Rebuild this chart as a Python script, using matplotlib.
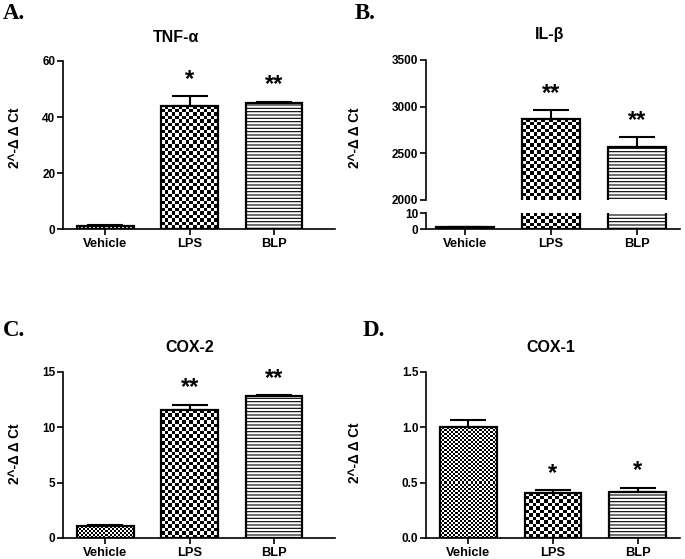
import numpy as np
import matplotlib

matplotlib.use("Agg")
import matplotlib.pyplot as plt
from matplotlib.colors import ListedColormap

plt.rcParams["font.family"] = ["Liberation Sans", "DejaVu Sans"]
plt.rcParams["font.weight"] = "bold"
plt.rcParams["hatch.linewidth"] = 0.8

groups = ["Vehicle", "LPS", "BLP"]

tnf_mean = [1.0, 44.0, 45.0]
tnf_err = [0.3, 3.5, 0.5]
tnf_stars = ["", "*", "**"]

il_mean = [1.0, 2870.0, 2565.0]
il_err = [0.3, 95.0, 105.0]
il_stars = ["", "**", "**"]

cox2_mean = [1.05, 11.55, 12.8]
cox2_err = [0.1, 0.5, 0.1]
cox2_stars = ["", "**", "**"]

cox1_mean = [1.0, 0.41, 0.415]
cox1_err = [0.07, 0.02, 0.04]
cox1_stars = ["", "*", "*"]

W, H = 685, 559
DPI = 100
fig = plt.figure(figsize=(W / DPI, H / DPI), dpi=DPI)


def rect(l, t, r, b):
    return [l / W, 1 - b / H, (r - l) / W, (b - t) / H]


def checker_fill(ax, bar, cell_px):
    x0, y0 = bar.get_x(), bar.get_y()
    w, h = bar.get_width(), bar.get_height()
    ylo, yhi = ax.get_ylim()
    ya, yb = max(y0, ylo), min(y0 + h, yhi)
    if yb <= ya:
        return
    (px0, py0), (px1, py1) = ax.transData.transform([(x0, ya), (x0 + w, yb)])
    nx = max(1, int(round((px1 - px0) / cell_px)))
    ny = max(1, int(round((py1 - py0) / cell_px)))
    grid = np.add.outer(np.arange(ny), np.arange(nx)) % 2
    im = ax.imshow(grid, cmap=ListedColormap(["white", "black"]),
                   extent=(x0, x0 + w, ya, yb), origin="lower",
                   aspect="auto", interpolation="nearest", zorder=2.5)
    im.set_clip_path(bar)


def draw_bars(ax, means, errs, stars, ylim, yticks, bottom=True, star_axes=True):
    x = np.arange(len(groups))
    ax.set_xlim(-0.5, 2.72)
    ax.set_ylim(*ylim)
    ax.errorbar(x, means, yerr=[np.zeros(len(errs)), errs], fmt="none",
                ecolor="black", elinewidth=1.5, capsize=13, capthick=1.5,
                zorder=1)
    bars = ax.bar(x, means, width=0.67, facecolor="white", edgecolor="black",
                  linewidth=0, hatch=[None, None, "-----"], zorder=2)
    ax.bar(x, means, width=0.67, facecolor="none", edgecolor="black",
           linewidth=1.6, zorder=3)
    checker_fill(ax, bars[0], 2)
    checker_fill(ax, bars[1], 3.5)
    ax.set_xlim(-0.5, 2.72)
    ax.set_ylim(*ylim)
    if star_axes:
        for xi, m, e, s in zip(x, means, errs, stars):
            if s:
                ax.annotate(s, (xi, m + e), xytext=(0, 12),
                            textcoords="offset points", ha="center",
                            va="center", fontsize=17)
    ax.set_yticks(yticks)
    ax.spines[["top", "right"]].set_visible(False)
    for sp in ax.spines.values():
        sp.set_linewidth(1.2)
    ax.tick_params(axis="y", direction="out", length=4, width=1.2,
                   labelsize=8.5, pad=1.5)
    if bottom:
        ax.set_xticks(x)
        ax.set_xticklabels(groups)
        ax.tick_params(axis="x", direction="out", length=4, width=1.2,
                       labelsize=9.3, pad=2.5)
    else:
        ax.spines["bottom"].set_visible(False)
        ax.set_xticks([])
    for lab in ax.get_xticklabels() + ax.get_yticklabels():
        lab.set_fontweight("bold")
    ax.set_facecolor("none")


# A. TNF-alpha
ax_a = fig.add_axes(rect(63, 61, 335, 229))
draw_bars(ax_a, tnf_mean, tnf_err, tnf_stars, (0, 60), [0, 20, 40, 60])

# B. IL-beta (broken axis)
ax_b_top = fig.add_axes(rect(426, 60, 680, 200))
draw_bars(ax_b_top, il_mean, il_err, il_stars, (2000, 3500),
          [2000, 2500, 3000, 3500], bottom=False)
ax_b_bot = fig.add_axes(rect(426, 213, 680, 229))
draw_bars(ax_b_bot, il_mean, il_err, il_stars, (0, 10), [0, 10],
          star_axes=False)
ax_b_top.set_xlim(-0.45, 2.5)
ax_b_bot.set_xlim(-0.45, 2.5)

# C. COX-2
ax_c = fig.add_axes(rect(63, 372, 335, 538))
draw_bars(ax_c, cox2_mean, cox2_err, cox2_stars, (0, 15), [0, 5, 10, 15])

# D. COX-1
ax_d = fig.add_axes(rect(426, 372, 680, 538))
draw_bars(ax_d, cox1_mean, cox1_err, cox1_stars, (0, 1.5),
          [0.0, 0.5, 1.0, 1.5])
ax_d.set_xlim(-0.5, 2.5)
ax_d.yaxis.set_major_formatter(matplotlib.ticker.FormatStrFormatter("%.1f"))


def ftext(px, py, s, **kw):
    fig.text(px / W, 1 - py / H, s, **kw)


# titles
for px, py, s in [(176, 37, "TNF-\u03b1"), (550, 35, "IL-\u03b2"),
                  (190, 347, "COX-2"), (551, 347, "COX-1")]:
    ftext(px, py, s, ha="center", va="center", fontsize=11.5, fontweight="bold")

# y labels
ylab = "2^-\u0394 \u0394 Ct"
for px, py in [(15, 138), (355, 138), (15, 454), (355, 453)]:
    ftext(px, py, ylab, ha="center", va="center", rotation=90, fontsize=9.8,
          fontweight="bold")

# panel letters
for px, py, s in [(3, 19, "A."), (355, 19, "B."), (3, 336, "C."), (363, 336, "D.")]:
    ftext(px, py, s, ha="left", va="baseline", fontsize=16.5,
          family="Liberation Serif", fontweight="bold")

fig.savefig("out.png", dpi=DPI)
plt.close(fig)
